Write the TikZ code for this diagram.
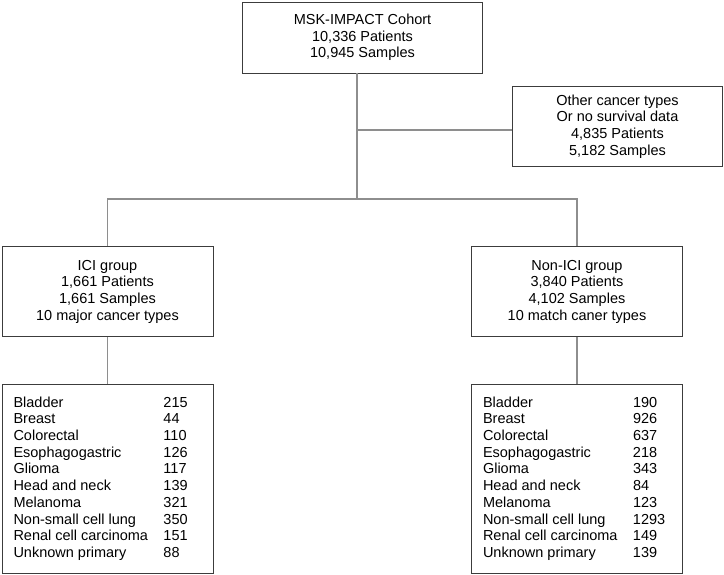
\documentclass[tikz,border=0pt]{standalone}
\usepackage{fontspec}
\setmainfont{Liberation Sans}
\usepackage{array}
\newcommand{\diafont}{\fontsize{14.5pt}{16.7pt}\selectfont}
\begin{document}
\begin{tikzpicture}[x=1pt,y=-1pt,
  box/.style={draw=boxc, line width=1pt, anchor=north west, align=center, inner sep=0pt,
    font=\diafont},
  conn/.style={draw=connc, line width=1.5pt}]
\definecolor{boxc}{HTML}{3C3C3C}
\definecolor{connc}{HTML}{8E8E8E}
\useasboundingbox (0,0) rectangle (724,574);
\node[box, minimum width=240pt, minimum height=71pt] (top) at (242,1.5) {MSK-IMPACT Cohort\\10,336 Patients\\10,945 Samples};
\node[box, minimum width=210pt, minimum height=80pt] (other) at (512,86) {Other cancer types\\Or no survival data\\4,835 Patients\\5,182 Samples};
\node[box, minimum width=211pt, minimum height=90pt] (ici) at (1.5,246) {ICI group\\1,661 Patients\\1,661 Samples\\10 major cancer types};
\node[box, minimum width=211pt, minimum height=90pt] (non) at (471,246) {Non-ICI group\\3,840 Patients\\4,102 Samples\\10 match caner types};
\node[box, minimum width=211pt, minimum height=189pt] (icil) at (1.5,384) {\diafont\begin{tabular}{@{}p{150pt}@{}p{38pt}@{}}
Bladder & 215\\ Breast & 44\\ Colorectal & 110\\ Esophagogastric & 126\\ Glioma & 117\\
Head and neck & 139\\ Melanoma & 321\\ Non-small cell lung & 350\\ Renal cell carcinoma & 151\\ Unknown primary & 88
\end{tabular}};
\node[box, minimum width=211pt, minimum height=189pt] (nonl) at (471,384) {\diafont\begin{tabular}{@{}p{150pt}@{}p{38pt}@{}}
Bladder & 190\\ Breast & 926\\ Colorectal & 637\\ Esophagogastric & 218\\ Glioma & 343\\
Head and neck & 84\\ Melanoma & 123\\ Non-small cell lung & 1293\\ Renal cell carcinoma & 149\\ Unknown primary & 139
\end{tabular}};
\coordinate (t) at (357,72.5);
\coordinate (j) at (357,199);
\coordinate (s) at (357,130);
\draw[conn] (t) -- (j);
\draw[conn] (s) -- (s -| other.west);
\draw[conn] (ici.north) -- (ici.north |- j) -- (non.north |- j) -- (non.north);
\draw[conn] (ici.south) -- (icil.north);
\draw[conn] (non.south) -- (nonl.north);
\end{tikzpicture}
\end{document}
